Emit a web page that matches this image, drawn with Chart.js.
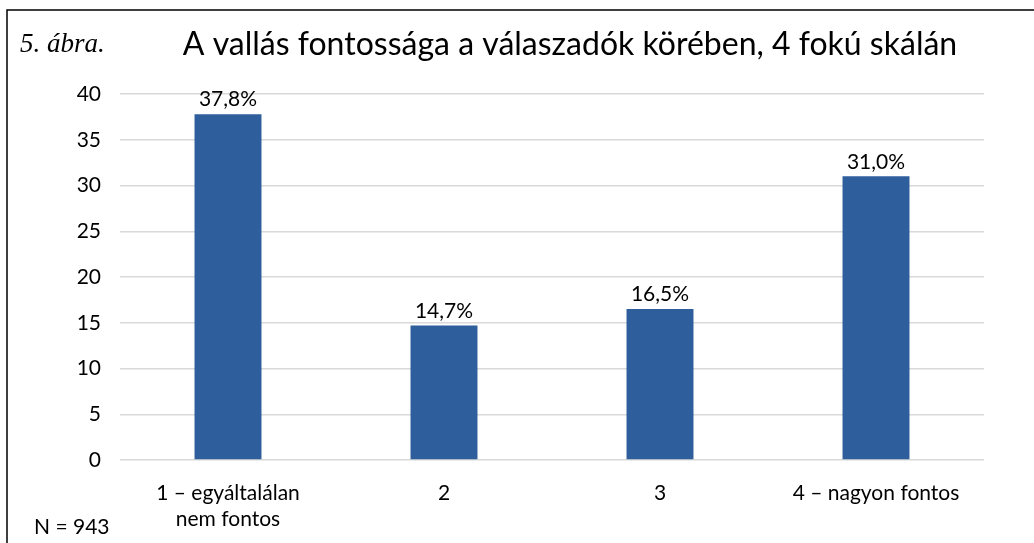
<!DOCTYPE html>
<html>
<head>
<meta charset="utf-8">
<script src="https://cdn.jsdelivr.net/npm/chart.js@4/dist/chart.umd.min.js"></script>
<style>
  html, body { margin: 0; padding: 0; background: #fff; }
  canvas { display: block; }
</style>
</head>
<body>
<canvas id="abra5" width="1034" height="543"></canvas>
<script>
// 5. ábra adatai
const kategoriak = [["1 – egyáltalálan", "nem fontos"], "2", "3", "4 – nagyon fontos"];
const ertekek = [37.8, 14.7, 16.5, 31.0];
const cimkek = ["37,8%", "14,7%", "16,5%", "31,0%"];
const yTickek = [0, 5, 10, 15, 20, 25, 30, 35, 40];

const betu = "Lato, 'Noto Sans', sans-serif";

// keret, cím, N = 943
const keretPlugin = {
  id: "keret",
  beforeDraw(chart) {
    const c = chart.ctx;
    c.save();
    c.fillStyle = "#fff";
    c.fillRect(0, 0, chart.width, chart.height);
    c.strokeStyle = "#000";
    c.lineWidth = 1.5;
    c.beginPath();
    c.moveTo(7, chart.height);
    c.lineTo(7, 10);
    c.lineTo(chart.width, 10);
    c.stroke();
    c.restore();
  },
  afterDraw(chart) {
    const c = chart.ctx;
    c.save();
    c.fillStyle = "#000";
    c.textBaseline = "middle";
    c.textAlign = "left";
    c.font = "italic 27px 'Liberation Serif', serif";
    c.fillText("5. ábra.", 20, 45);
    c.textAlign = "center";
    c.font = "32px " + betu;
    c.fillText("A vallás fontossága a válaszadók körében, 4 fokú skálán", 570, 45);
    c.textAlign = "left";
    c.font = "21px " + betu;
    c.fillText("N = 943", 34, 527);
    c.restore();
  },
};

// értékcímkék az oszlopok fölött
const cimkePlugin = {
  id: "cimkek",
  afterDatasetsDraw(chart) {
    const c = chart.ctx;
    const meta = chart.getDatasetMeta(0);
    c.save();
    c.fillStyle = "#000";
    c.font = "21px " + betu;
    c.textAlign = "center";
    c.textBaseline = "bottom";
    meta.data.forEach((bar, i) => {
      c.fillText(cimkek[i], bar.x, bar.y - 4);
    });
    c.restore();
  },
};

new Chart(document.getElementById("abra5").getContext("2d"), {
  type: "bar",
  data: {
    labels: kategoriak,
    datasets: [
      {
        data: ertekek,
        backgroundColor: "#2e5e9c",
        barPercentage: 0.31,
        categoryPercentage: 1,
      },
    ],
  },
  options: {
    responsive: false,
    animation: false,
    devicePixelRatio: 1,
    layout: { padding: { top: 94, right: 50, left: 0, bottom: 0 } },
    plugins: { legend: { display: false }, tooltip: { enabled: false } },
    scales: {
      x: {
        grid: { display: false, drawTicks: false },
        border: { display: false },
        ticks: { color: "#000", font: { family: betu, size: 21, lineHeight: 1.2 }, padding: 21, maxRotation: 0, autoSkip: false },
        afterFit: (s) => { s.height = 83; },
      },
      y: {
        min: 0,
        max: 40,
        afterBuildTicks: (s) => { s.ticks = yTickek.map((v) => ({ value: v })); },
        grid: { color: "#d9d9d9", lineWidth: 1.5, drawTicks: false },
        border: { display: false },
        ticks: { color: "#000", font: { family: betu, size: 21 }, padding: 19 },
        afterFit: (s) => { s.width = 120; },
      },
    },
  },
  plugins: [keretPlugin, cimkePlugin],
});
</script>
</body>
</html>
